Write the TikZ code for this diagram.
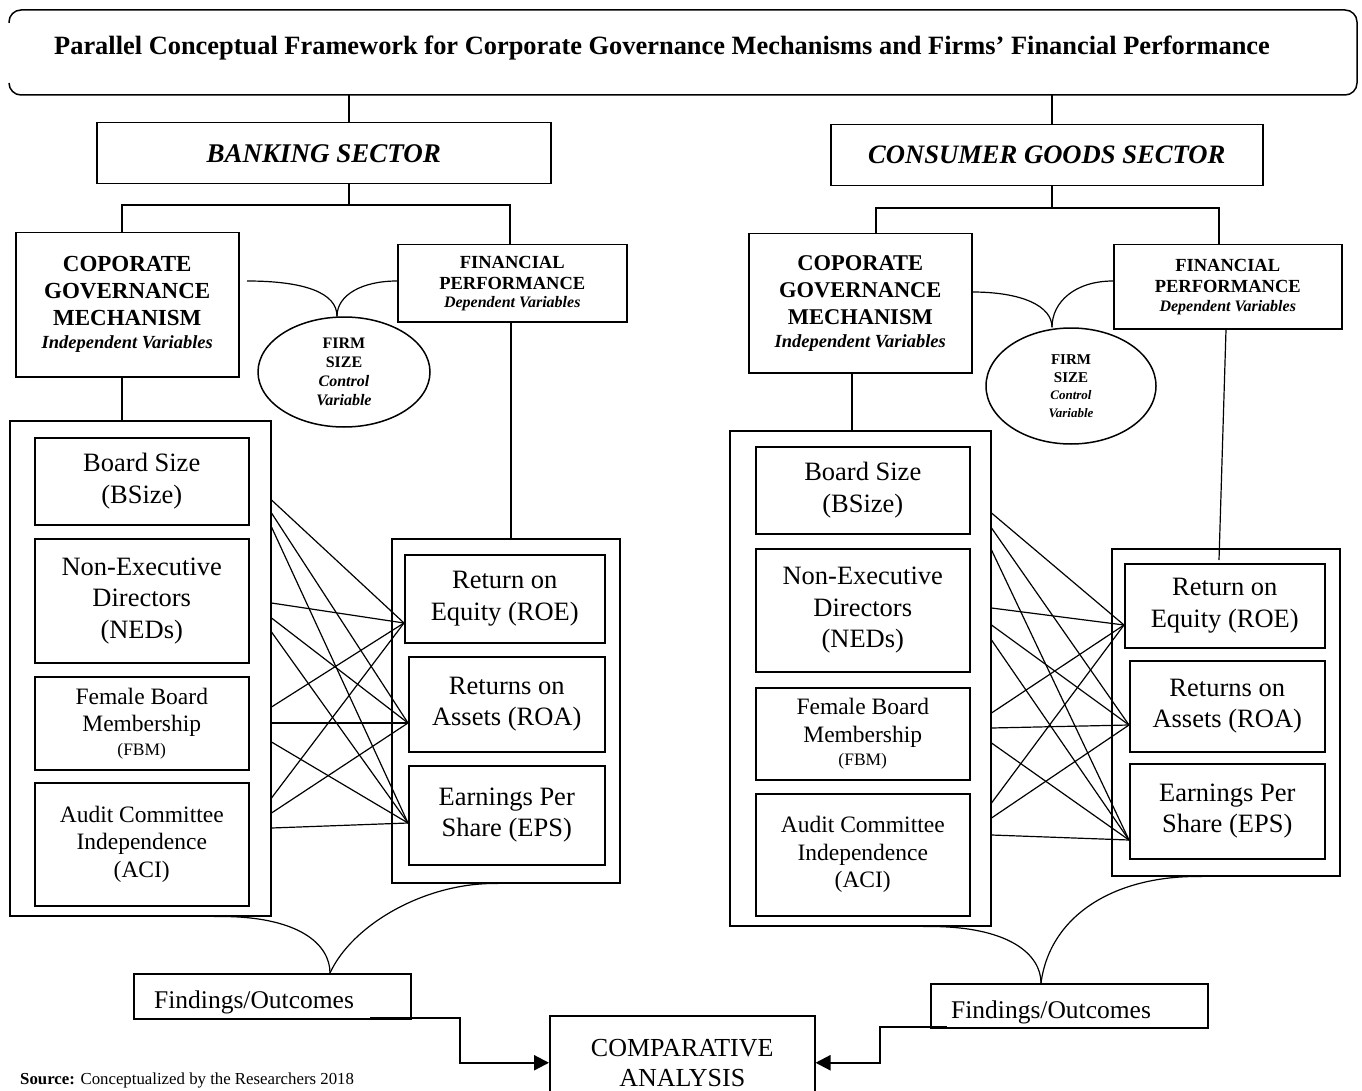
\documentclass[tikz,border=0pt]{standalone}
\usepackage{fontspec}
\setmainfont{Liberation Serif}
\usetikzlibrary{shapes.geometric,arrows.meta}
\newcommand\myfs[2]{\fontsize{#1}{#2}\selectfont}
\begin{document}
\begin{tikzpicture}[x=1pt,y=-1pt,
  bx/.style={draw, line width=1.5pt, inner sep=0pt, anchor=north west, align=center},
  ln/.style={line width=1.2pt},
  thk/.style={line width=2.2pt, -{Triangle[length=15pt,width=15pt]}},
  body/.style={font=\myfs{26.5}{31.5}},
  small/.style={font=\myfs{23.5}{27.5}},
  fstext/.style={draw, ellipse, line width=1.5pt, inner sep=0pt, align=center}
  ]
\useasboundingbox (0,0) rectangle (1362,1091);

% title
\draw[line width=1.5pt, rounded corners=12pt] (9,23) -- (9,10) -- (1357,10) -- (1357,95) -- (9,95) -- (9,83);
\node[font=\myfs{26.4}{30}\bfseries] (title) at (662,48) {Parallel Conceptual Framework for Corporate Governance Mechanisms and Firms’ Financial Performance};
\coordinate (tb1) at (349,95);
\coordinate (tb2) at (1052,95);

% sector boxes
\node[bx, minimum width=454, minimum height=61, font=\myfs{27}{30}\bfseries\itshape] (bank) at (96,122) {BANKING SECTOR};
\node[bx, minimum width=432, minimum height=61, font=\myfs{26.6}{30}\bfseries\itshape] (cons) at (830,124) {CONSUMER GOODS SECTOR};
\draw[ln] (tb1) -- (tb1 |- bank.north);
\draw[ln] (tb2) -- (tb2 |- cons.north);

% left heading boxes
\node[bx, minimum width=223, minimum height=144, font=\myfs{23}{27}\bfseries] (lcgm) at (15,232)
  {COPORATE\\GOVERNANCE\\MECHANISM\\[-4pt]{\myfs{18.5}{22}\bfseries\itshape Independent Variables}};
\node[bx, minimum width=229, minimum height=77, font=\myfs{18.5}{21}\bfseries] (lfp) at (397,244)
  {FINANCIAL\\PERFORMANCE\\[-3pt]{\myfs{16}{18}\bfseries\itshape Dependent Variables}};
\node[fstext, minimum width=172, minimum height=110, font=\myfs{16}{19}\bfseries] (lfs) at (344,372)
  {FIRM\\SIZE\\{\itshape Control}\\{\itshape Variable}};

% right heading boxes
\node[bx, minimum width=223, minimum height=139, font=\myfs{22.5}{27}\bfseries] (rcgm) at (748,233)
  {COPORATE\\GOVERNANCE\\MECHANISM\\[-4pt]{\myfs{18.5}{22}\bfseries\itshape Independent Variables}};
\node[bx, minimum width=228, minimum height=84, font=\myfs{18.5}{21}\bfseries] (rfp) at (1113,244)
  {FINANCIAL\\PERFORMANCE\\[-2pt]{\myfs{16}{18}\bfseries\itshape Dependent Variables}};
\node[fstext, minimum width=170, minimum height=116, font=\myfs{15}{17.5}\bfseries] (rfs) at (1071,386)
  {FIRM\\SIZE\\{\myfs{13}{16}\bfseries\itshape Control}\\{\myfs{13}{16}\bfseries\itshape Variable}};

% branches
\coordinate (lj) at (349,205);
\draw[ln] (bank.south -| lj) -- (lj);
\draw[ln] (lcgm.north -| 122,0) |- (lj) -| (lfp.north -| 510,0);
\coordinate (rj) at (1052,208);
\draw[ln] (cons.south -| rj) -- (rj);
\draw[ln] (rcgm.north -| 876,0) |- (rj) -| (rfp.north -| 1219,0);

% firm size curves
\coordinate (lcs) at (247,281);
\draw[ln] (lcs) .. controls (305,281) and (337,293) .. ([xshift=-7pt]lfs.north);
\draw[ln] (lfp.west |- 0,281) .. controls (362,281) and (337,295) .. ([xshift=-7pt]lfs.north);
\coordinate (rcs) at (972,292);
\draw[ln] (rcs) .. controls (1022,292) and (1052,306) .. ([xshift=-19pt]rfs.north);
\draw[ln] (rfp.west |- 0,281) .. controls (1075,281) and (1052,302) .. ([xshift=-19pt]rfs.north);

% outer boxes
\node[bx, minimum width=261, minimum height=495] (lo) at (9,420) {};
\node[bx, minimum width=228, minimum height=344] (lro) at (391,538) {};
\node[bx, minimum width=261, minimum height=495] (ro) at (729,430) {};
\node[bx, minimum width=228, minimum height=327] (rro) at (1111,548) {};

\draw[ln] (lcgm.south -| 122,0) -- (lo.north -| 122,0);
\draw[ln] (rcgm.south -| 852,0) -- (ro.north -| 852,0);
\draw[ln] (lfp.south -| 511,0) -- (lro.north -| 511,0);
\coordinate (rfe) at (1219,560);
\draw[ln] (rfp.south -| 1226,0) -- (rfe);

% left independent variables
\node[bx, body, minimum width=214, minimum height=87] (lb1) at (34,437) {Board Size\\(BSize)};
\node[bx, body, minimum width=214, minimum height=124] (lb2) at (34,538) {Non-Executive\\Directors\\(NEDs)};
\node[bx, small, minimum width=214, minimum height=93] (lb3) at (34,676) {Female Board\\Membership\\[-4pt]{\myfs{17.5}{20}(FBM)}};
\node[bx, small, minimum width=214, minimum height=123] (lb4) at (34,782) {Audit Committee\\Independence\\(ACI)};
% left dependent variables
\node[bx, body, minimum width=200, minimum height=88] (lroe) at (404,554) {Return on\\Equity (ROE)};
\node[bx, body, minimum width=196, minimum height=95] (lroa) at (408,656) {Returns on\\Assets (ROA)};
\node[bx, body, minimum width=196, minimum height=99] (leps) at (408,765) {Earnings Per\\Share (EPS)};

% right independent variables
\node[bx, body, minimum width=214, minimum height=87] (rb1) at (755,446) {Board Size\\(BSize)};
\node[bx, body, minimum width=214, minimum height=123] (rb2) at (755,548) {Non-Executive\\Directors\\(NEDs)};
\node[bx, small, minimum width=214, minimum height=92] (rb3) at (755,687) {Female Board\\Membership\\[-4pt]{\myfs{17.5}{20}(FBM)}};
\node[bx, small, minimum width=214, minimum height=122] (rb4) at (755,793) {Audit Committee\\Independence\\(ACI)};
% right dependent variables
\node[bx, body, minimum width=200, minimum height=84] (rroe) at (1124,563) {Return on\\Equity (ROE)};
\node[bx, body, minimum width=195, minimum height=91] (rroa) at (1129,660) {Returns on\\Assets (ROA)};
\node[bx, body, minimum width=195, minimum height=95] (reps) at (1129,763) {Earnings Per\\Share (EPS)};

% crossing connectors, left
\foreach \ya/\t/\yb in {500/lroe/623, 513/lroa/723, 527/leps/823,
                        603/lroe/623, 618/lroa/723, 632/leps/823,
                        707/lroe/623, 723/lroa/723, 742/leps/823,
                        798/lroe/623, 813/lroa/723, 828/leps/823}
  \draw[ln] (lo.east |- 0,\ya) -- (\t.west |- 0,\yb);
% crossing connectors, right
\foreach \ya/\t/\yb in {513/rroe/625, 528/rroa/725, 550/reps/840,
                        608/rroe/625, 625/rroa/725, 640/reps/840,
                        713/rroe/625, 728/rroa/725, 743/reps/840,
                        803/rroe/625, 818/rroa/725, 835/reps/840}
  \draw[ln] (ro.east |- 0,\ya) -- (\t.west |- 0,\yb);

% findings
\node[bx, minimum width=277, minimum height=45] (lfind) at (133,973) {};
\node[anchor=base west, inner sep=0pt, font=\myfs{25.5}{30}] (lfindt) at (154,1008) {Findings/Outcomes};
\node[bx, minimum width=277, minimum height=44] (rfind) at (930,983) {};
\node[anchor=base west, inner sep=0pt, font=\myfs{25.5}{30}] (rfindt) at (951,1018) {Findings/Outcomes};

\draw[ln] (lo.south -| 214,0) .. controls (300,915) and (330,945) .. (lfind.north -| 330,0);
\draw[ln] (lro.south -| 498,0) .. controls (425,882) and (352,925) .. (lfind.north -| 330,0);
\draw[ln] (ro.south -| 923,0) .. controls (1010,925) and (1041,955) .. (rfind.north -| 1041,0);
\draw[ln] (rro.south -| 1202,0) .. controls (1115,875) and (1050,915) .. (rfind.north -| 1041,0);

% comparative analysis
\node[bx, minimum width=265, minimum height=94, font=\myfs{26}{30}] (comp) at (549,1015) {COMPARATIVE\\ANALYSIS};
\coordinate (la) at (370,1018);
\draw[thk] (la) -- (460,1018) |- (comp.west);
\coordinate (ra) at (947,1027);
\draw[thk] (ra) -- (880,1027) |- (comp.east);

% source
\node[anchor=base west, inner sep=0pt, font=\myfs{16.8}{20}] (src) at (20,1084) {\textbf{Source:} Conceptualized by the Researchers 2018};
\end{tikzpicture}
\end{document}
